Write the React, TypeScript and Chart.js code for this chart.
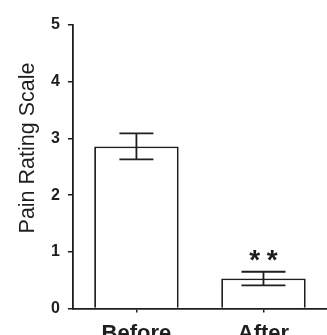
import React, { useEffect, useRef } from "react";
import { Chart, registerables } from "chart.js";
Chart.register(...registerables);

const categories = ["Before", "After"];
const means = [2.86, 0.53];
const errors = [0.23, 0.12];
const significance = ["", "**"];
const yTicks = [0, 1, 2, 3, 4, 5];
const yTitle = "Pain Rating Scale";

const INK = "#1e1e1e";
const FONT = "'Liberation Sans', Arial, sans-serif";
const capWidths = [34, 44];

const errorBarPlugin = {
  id: "errorBars",
  afterDatasetsDraw(chart: any) {
    const ctx = chart.ctx;
    const meta = chart.getDatasetMeta(0);
    const y = chart.scales.y;
    ctx.save();
    ctx.strokeStyle = INK;
    ctx.lineWidth = 1.8;
    meta.data.forEach((bar: any, i: number) => {
      const x = bar.x;
      const top = y.getPixelForValue(means[i] + errors[i]);
      const bot = y.getPixelForValue(means[i] - errors[i]);
      const hw = capWidths[i] / 2;
      ctx.beginPath();
      ctx.moveTo(x, top);
      ctx.lineTo(x, bot);
      ctx.moveTo(x - hw, top);
      ctx.lineTo(x + hw, top);
      ctx.moveTo(x - hw, bot);
      ctx.lineTo(x + hw, bot);
      ctx.stroke();
      const mark = significance[i];
      if (mark) {
        ctx.fillStyle = INK;
        ctx.font = `bold 28px ${FONT}`;
        ctx.textAlign = "center";
        ctx.textBaseline = "alphabetic";
        const gap = 17.5;
        const n = mark.length;
        for (let k = 0; k < n; k++) {
          const cx = x + (k - (n - 1) / 2) * gap;
          ctx.fillText(mark[k], cx, top - 3);
        }
      }
    });
    // y-axis title
    ctx.save();
    ctx.fillStyle = INK;
    ctx.font = `21.5px ${FONT}`;
    ctx.textAlign = "center";
    ctx.textBaseline = "middle";
    ctx.translate(28, 148);
    ctx.rotate(-Math.PI / 2);
    ctx.fillText(yTitle, 0, 0);
    ctx.restore();
    ctx.restore();
  },
};

export default function App() {
  const ref = useRef<HTMLCanvasElement>(null);
  useEffect(() => {
    if (!ref.current) return;
    const chart = new Chart(ref.current, {
      type: "bar",
      data: {
        labels: categories,
        datasets: [
          {
            data: means,
            backgroundColor: "#ffffff",
            borderColor: INK,
            borderWidth: 1.8,
            categoryPercentage: 1,
            barPercentage: 0.665,
          },
        ],
      },
      options: {
        animation: false,
        responsive: true,
        maintainAspectRatio: false,
        layout: { padding: { top: 25, right: 0, left: 43, bottom: -20 } },
        plugins: { legend: { display: false }, tooltip: { enabled: false } },
        scales: {
          x: {
            grid: { drawOnChartArea: false, offset: false, tickLength: 4, color: INK, lineWidth: 1.5 },
            border: { display: true, color: INK, width: 1.8 },
            ticks: {
              color: INK,
              padding: 8,
              font: { family: FONT, size: 22, weight: "bold" },
            },
          },
          y: {
            min: 0,
            max: 5,
            afterBuildTicks: (axis: any) => {
              axis.ticks = yTicks.map((v) => ({ value: v }));
            },
            grid: { drawOnChartArea: false, tickLength: 5, color: INK, lineWidth: 1.5 },
            border: { display: true, color: INK, width: 1.8 },
            ticks: {
              color: INK,
              padding: 8,
              font: { family: FONT, size: 16, weight: "bold" },
            },
          },
        },
      },
      plugins: [errorBarPlugin],
    });
    return () => chart.destroy();
  }, []);
  return (
    <div style={{ position: "fixed", left: 0, top: 0, width: 327, height: 335, background: "#fff" }}>
      <canvas ref={ref} />
    </div>
  );
}
